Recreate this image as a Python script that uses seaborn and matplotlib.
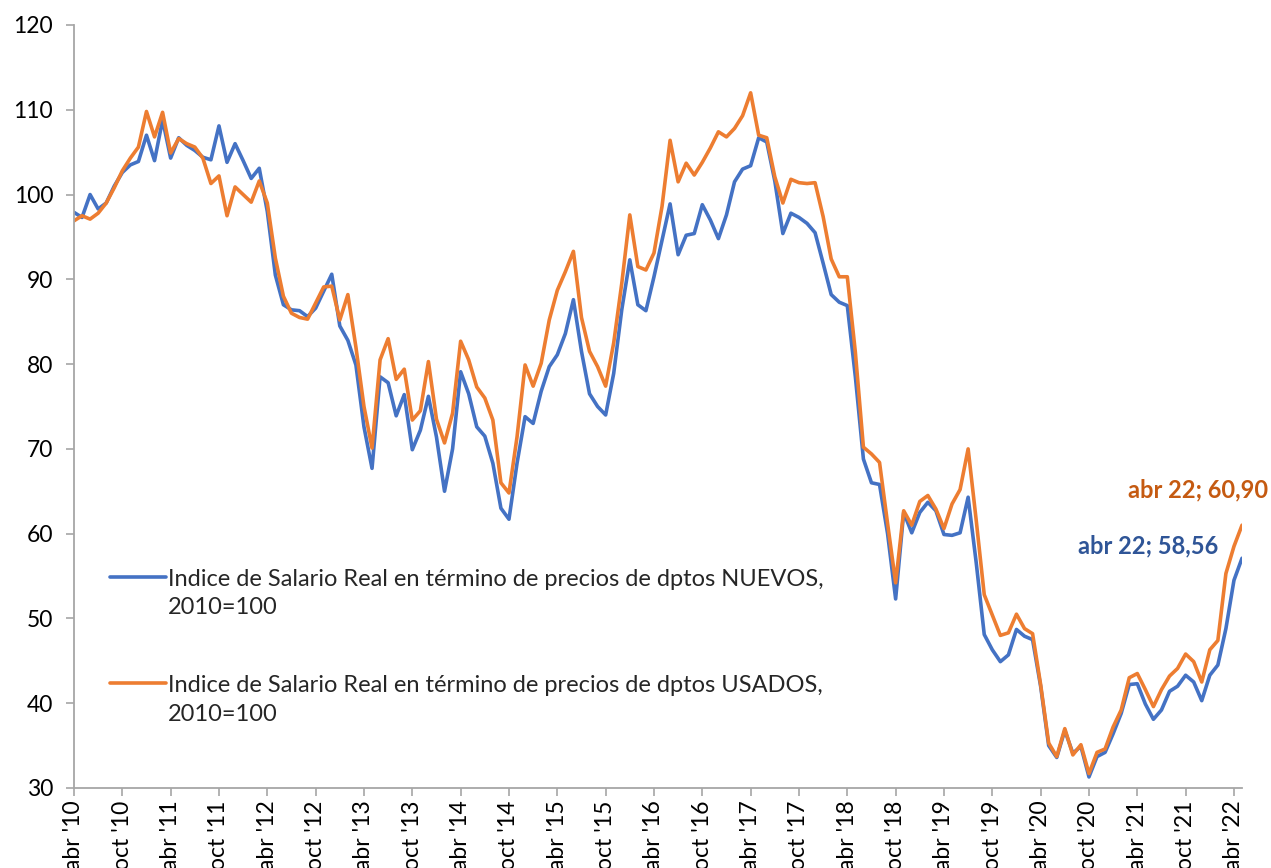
import numpy as np
import pandas as pd
import seaborn as sns
import matplotlib.pyplot as plt

# indice de salario real, mensual desde abr '10 (2010=100)
nuevos = [97.9, 97.3, 100.0, 98.3, 99.0, 101.0, 102.6, 103.5, 103.9, 107.0,
          104.0, 108.8, 104.3, 106.7, 105.8, 105.2, 104.4, 104.1, 108.1, 103.8,
          106.0, 104.0, 101.9, 103.1, 98.0, 90.5, 87.0, 86.4, 86.3, 85.6,
          86.6, 88.6, 90.6, 84.5, 82.8, 79.9, 72.6, 67.7, 78.5, 77.8,
          73.9, 76.4, 69.9, 72.2, 76.2, 71.4, 65.0, 70.0, 79.1, 76.5,
          72.6, 71.5, 68.3, 63.0, 61.7, 68.3, 73.8, 73.0, 76.8, 79.7,
          81.1, 83.6, 87.6, 81.5, 76.5, 75.0, 74.0, 78.9, 86.4, 92.3,
          87.0, 86.3, 90.3, 94.6, 98.9, 92.9, 95.2, 95.4, 98.8, 97.0,
          94.8, 97.6, 101.5, 103.0, 103.4, 106.7, 106.2, 101.6, 95.4, 97.8,
          97.3, 96.6, 95.5, 91.9, 88.2, 87.3, 86.9, 78.5, 68.8, 66.0,
          65.8, 60.0, 52.3, 62.5, 60.1, 62.5, 63.7, 62.7, 59.9, 59.8,
          60.1, 64.3, 56.6, 48.1, 46.3, 44.9, 45.7, 48.7, 47.9, 47.5,
          42.0, 35.0, 33.6, 36.8, 34.1, 34.9, 31.3, 33.7, 34.2, 36.4,
          38.8, 42.2, 42.3, 39.9, 38.1, 39.2, 41.4, 42.0, 43.3, 42.5,
          40.3, 43.3, 44.5, 48.8, 54.5, 57.1]
usados = [96.9, 97.5, 97.1, 97.8, 99.0, 100.8, 102.8, 104.3, 105.6, 109.8,
          106.8, 109.7, 104.9, 106.6, 106.0, 105.6, 104.3, 101.3, 102.2, 97.5,
          100.9, 100.0, 99.1, 101.6, 99.0, 92.5, 88.0, 86.0, 85.5, 85.3,
          87.2, 89.1, 89.2, 85.2, 88.2, 82.0, 75.0, 70.1, 80.5, 83.0,
          78.2, 79.4, 73.4, 74.5, 80.3, 73.5, 70.7, 74.2, 82.7, 80.5,
          77.3, 76.0, 73.4, 66.0, 64.8, 71.4, 79.9, 77.4, 80.1, 85.2,
          88.7, 90.9, 93.3, 85.5, 81.5, 79.7, 77.4, 82.5, 89.5, 97.6,
          91.5, 91.1, 93.1, 98.6, 106.4, 101.5, 103.7, 102.3, 103.8, 105.5,
          107.4, 106.8, 107.8, 109.3, 112.0, 107.0, 106.7, 102.1, 99.0, 101.8,
          101.4, 101.3, 101.4, 97.4, 92.4, 90.3, 90.3, 81.4, 70.2, 69.4,
          68.4, 61.2, 54.2, 62.7, 61.0, 63.8, 64.5, 62.9, 60.6, 63.5,
          65.2, 70.0, 61.6, 52.8, 50.4, 48.0, 48.3, 50.5, 48.8, 48.2,
          42.2, 35.3, 33.7, 37.0, 33.9, 35.1, 31.7, 34.2, 34.6, 37.2,
          39.2, 43.0, 43.5, 41.6, 39.6, 41.6, 43.2, 44.1, 45.8, 44.9,
          42.5, 46.3, 47.4, 55.3, 58.5, 61.0]

etiquetas_x = ["abr '10", "oct '10", "abr '11", "oct '11", "abr '12", "oct '12",
               "abr '13", "oct '13", "abr '14", "oct '14", "abr '15", "oct '15",
               "abr '16", "oct '16", "abr '17", "oct '17", "abr '18", "oct '18",
               "abr '19", "oct '19", "abr '20", "oct '20", "abr '21", "oct '21",
               "abr '22"]

serie_n = 'Indice de Salario Real en término de precios de dptos NUEVOS,\n2010=100'
serie_u = 'Indice de Salario Real en término de precios de dptos USADOS,\n2010=100'
azul, naranja = '#4472C4', '#ED7D31'

meses = np.arange(len(nuevos))
df = pd.DataFrame({'mes': np.concatenate([meses, meses]),
                   'indice': nuevos + usados,
                   'serie': [serie_n] * len(nuevos) + [serie_u] * len(usados)})

sns.set_theme(style='white')
plt.rcParams['font.family'] = ['Lato', 'DejaVu Sans']

fig = plt.figure(figsize=(12.71, 8.68), dpi=100)
ax = fig.add_axes([0.0582, 0.0922, 0.919, 0.879])

sns.lineplot(data=df, x='mes', y='indice', hue='serie',
             palette=[azul, naranja], linewidth=2.6,
             solid_joinstyle='round', solid_capstyle='round', ax=ax)

ax.set_xlim(0, len(nuevos) - 1)
ax.set_ylim(30, 120)
ax.set_yticks(range(30, 121, 10))
ax.set_xticks(range(0, len(nuevos), 6))
ax.set_xticklabels(etiquetas_x, rotation=90)
ax.set_xlabel('')
ax.set_ylabel('')

for s in ['top', 'right']:
    ax.spines[s].set_visible(False)
for s in ['left', 'bottom']:
    ax.spines[s].set_color('#A6A6A6')
    ax.spines[s].set_linewidth(1.3)
ax.tick_params(axis='both', direction='out', length=6, width=1.2,
               color='#A6A6A6', labelsize=16.5, labelcolor='black',
               bottom=True, left=True)
ax.tick_params(axis='y', pad=9)
ax.tick_params(axis='x', pad=3)

sns.move_legend(ax, loc='upper left', bbox_to_anchor=(0.0205, 0.303),
                frameon=False, title=None, fontsize=17, borderpad=0,
                handlelength=2.4, handletextpad=0.05, labelspacing=2.4)
leg = ax.get_legend()
for t in leg.get_texts():
    t.set_linespacing(1.45)
# en el original la linea de la leyenda va a la altura de la primera linea
for h in leg.get_lines():
    h.set_ydata([v + 12 for v in h.get_ydata()])

ax.text(148.2, 65.2, 'abr 22; 60,90', color='#C55A11', fontsize=17,
        fontweight='bold', ha='right', va='center', clip_on=False)
ax.text(142.0, 58.5, 'abr 22; 58,56', color='#2F5597', fontsize=17,
        fontweight='bold', ha='right', va='center', clip_on=False)

fig.savefig('out.png', dpi=100)
